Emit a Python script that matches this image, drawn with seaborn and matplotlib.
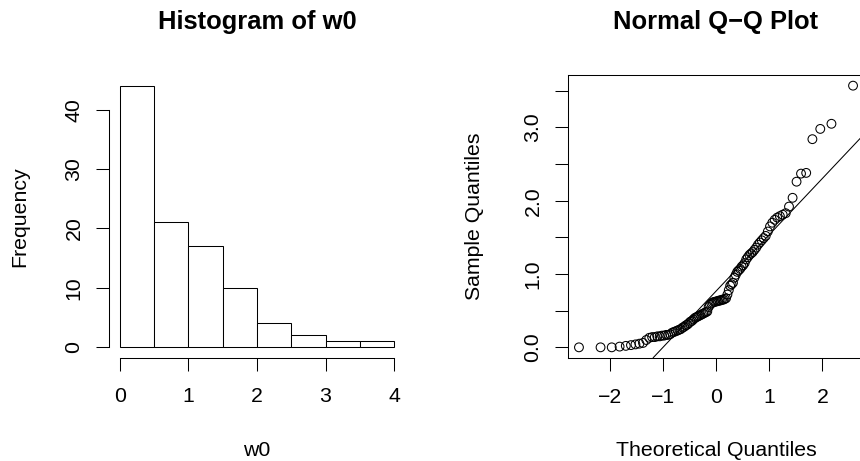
import numpy as np
import pandas as pd
import seaborn as sns
import matplotlib
matplotlib.use("Agg")
import matplotlib.pyplot as plt
from statistics import NormalDist

w0 = [0.00, 0.00, 0.00, 0.01, 0.02, 0.03, 0.04, 0.05, 0.06, 0.10,
      0.13, 0.14, 0.14, 0.15, 0.15, 0.16, 0.16, 0.17, 0.17, 0.18,
      0.20, 0.21, 0.22, 0.23, 0.24, 0.25, 0.27, 0.28, 0.30, 0.31,
      0.33, 0.35, 0.36, 0.38, 0.40, 0.41, 0.42, 0.43, 0.44, 0.45,
      0.46, 0.47, 0.48, 0.49, 0.55, 0.58, 0.60, 0.61, 0.62, 0.62,
      0.63, 0.63, 0.64, 0.64, 0.65, 0.65, 0.66, 0.67, 0.72, 0.78,
      0.84, 0.86, 0.88, 0.95, 0.99, 1.03, 1.05, 1.07, 1.10, 1.12,
      1.15, 1.20, 1.23, 1.26, 1.28, 1.30, 1.33, 1.36, 1.40, 1.43,
      1.46, 1.49, 1.52, 1.58, 1.65, 1.70, 1.74, 1.77, 1.79, 1.81,
      1.83, 1.92, 2.04, 2.26, 2.37, 2.38, 2.84, 2.98, 3.05, 3.57]
hist_breaks = [0, 0.5, 1, 1.5, 2, 2.5, 3, 3.5, 4]
hist_xticks = [0, 1, 2, 3, 4]
hist_yticks = [0, 10, 20, 30, 40]
qq_xticks = [-2, -1, 0, 1, 2]
qq_yticks = [0, 0.5, 1, 1.5, 2, 2.5, 3, 3.5]
qq_yticklabels = ["0.0", "", "1.0", "", "2.0", "", "3.0", ""]

sns.set_style("ticks")
plt.rcParams["font.family"] = ["Liberation Sans", "DejaVu Sans"]
plt.rcParams["font.size"] = 15.3
plt.rcParams["axes.linewidth"] = 0.75
plt.rcParams["xtick.major.width"] = 0.75
plt.rcParams["ytick.major.width"] = 0.75
for key in ["text.color", "axes.labelcolor", "xtick.color", "ytick.color", "axes.edgecolor"]:
    plt.rcParams[key] = "black"

# theoretical quantiles (ppoints, n > 10)
n = len(w0)
sample = np.sort(np.array(w0))
theo = np.array([NormalDist().inv_cdf((i - 0.5) / n) for i in range(1, n + 1)])
df = pd.DataFrame({"theo": theo, "sample": sample})

fig = plt.figure(figsize=(8.6, 4.61), dpi=100)
W, H = 860, 461

def px_axes(left, right, top, bottom):
    return fig.add_axes([left / W, (H - bottom) / H, (right - left) / W, (bottom - top) / H])

def style_ticks(ax):
    ax.tick_params(direction="out", length=9.4, color="black", labelcolor="black",
                   bottom=True, left=True, top=False, right=False)
    ax.tick_params(axis="x", pad=12)
    ax.tick_params(axis="y", pad=9)
    for lab in ax.get_yticklabels():
        lab.set_rotation(90)
        lab.set_va("center")

# ---- histogram ----
ax1 = px_axes(109, 405, 75.5, 357.5)
sns.histplot(x=w0, bins=hist_breaks, stat="count", color="white", alpha=1,
             edgecolor="black", linewidth=0.75, ax=ax1)
ax1.set_xlim(-0.16, 4.16)
ax1.set_ylim(-1.76, 45.76)
for s in ["top", "right"]:
    ax1.spines[s].set_visible(False)
ax1.spines["left"].set_bounds(0, 40)
ax1.spines["bottom"].set_bounds(0, 4)
ax1.set_xticks(hist_xticks)
ax1.set_yticks(hist_yticks)
style_ticks(ax1)
ax1.set_title("Histogram of w0", fontweight="bold", fontsize=18.4,
              y=(357.5 - 22) / 282, va="center", pad=0)
ax1.set_xlabel("w0", va="center")
ax1.xaxis.set_label_coords(0.5, (357.5 - 450) / 282)
ax1.set_ylabel("Frequency", va="center", ha="center")
ax1.yaxis.set_label_coords((20 - 109) / 296, 0.5)

# ---- Q-Q plot ----
ax2 = px_axes(568, 864, 75.2, 357.8)
sns.scatterplot(data=df, x="theo", y="sample", marker="o", s=40, ax=ax2)
pts = ax2.collections[0]
pts.set_facecolor("none")
pts.set_edgecolor("black")
pts.set_linewidth(0.75)

# qqline through the quartiles
q1, q3 = np.quantile(sample, [0.25, 0.75])
t1, t3 = NormalDist().inv_cdf(0.25), NormalDist().inv_cdf(0.75)
ax2.axline((t1, q1), (t3, q3), color="black", linewidth=0.75)

xr = theo.max() - theo.min()
yr = sample.max() - sample.min()
ax2.set_xlim(theo.min() - 0.04 * xr, theo.max() + 0.04 * xr)
ax2.set_ylim(sample.min() - 0.04 * yr, sample.max() + 0.04 * yr)
for s in ax2.spines.values():
    s.set_visible(True)
    s.set_color("black")
ax2.set_xticks(qq_xticks)
ax2.set_yticks(qq_yticks)
ax2.set_yticklabels(qq_yticklabels)
style_ticks(ax2)
ax2.set_title("Normal Q\u2212Q Plot", fontweight="bold", fontsize=18.4,
              y=(357.8 - 22) / 282.6, va="center", pad=0)
ax2.set_xlabel("Theoretical Quantiles", va="center")
ax2.xaxis.set_label_coords(0.5, (357.8 - 450) / 282.6)
ax2.set_ylabel("Sample Quantiles", va="center", ha="center")
ax2.yaxis.set_label_coords((475 - 568) / 296, 0.5)

fig.savefig("out.png", dpi=100)
